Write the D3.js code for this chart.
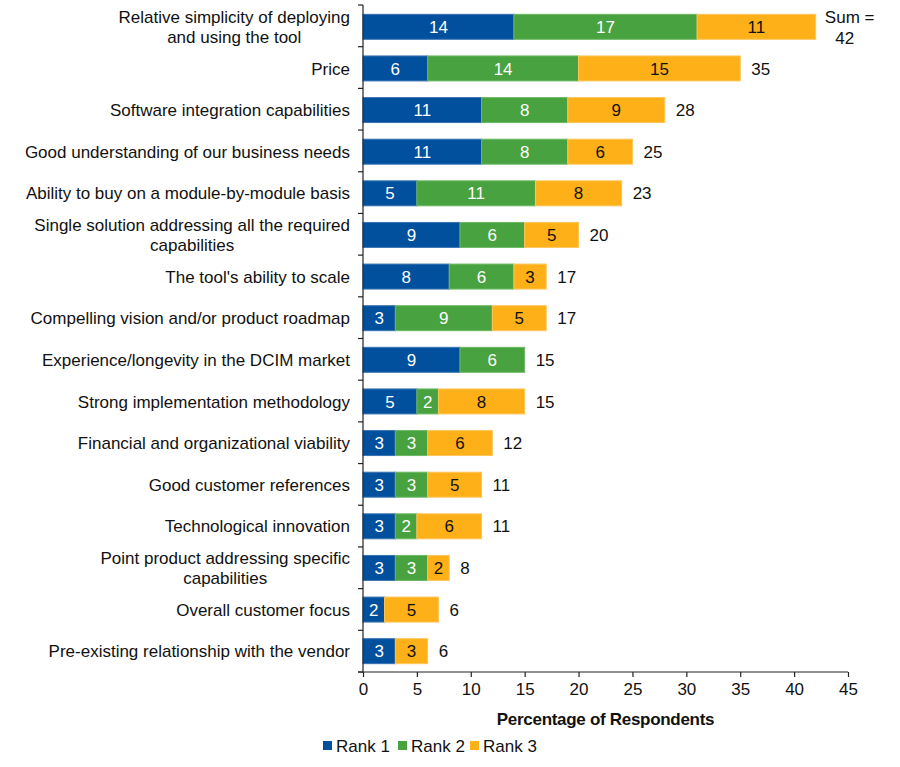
<!DOCTYPE html>
<html>
<head>
<meta charset="utf-8">
<script src="https://cdn.jsdelivr.net/npm/d3@7"></script>
<style>
  body { margin: 0; background: #fff; }
  text { font-family: "Liberation Sans", Arial, sans-serif; }
</style>
</head>
<body>
<script>
let categories = [
    ["Relative simplicity of deploying", "and using the tool"],
    ["Price"],
    ["Software integration capabilities"],
    ["Good understanding of our business needs"],
    ["Ability to buy on a module-by-module basis"],
    ["Single solution addressing all the required", "capabilities"],
    ["The tool's ability to scale"],
    ["Compelling vision and/or product roadmap"],
    ["Experience/longevity in the DCIM market"],
    ["Strong implementation methodology"],
    ["Financial and organizational viability"],
    ["Good customer references"],
    ["Technological innovation"],
    ["Point product addressing specific", "capabilities"],
    ["Overall customer focus"],
    ["Pre-existing relationship with the vendor"]
];
let rank1 = [14, 6, 11, 11, 5, 9, 8, 3, 9, 5, 3, 3, 3, 3, 2, 3];
let rank2 = [17, 14, 8, 8, 11, 6, 6, 9, 6, 2, 3, 3, 2, 3, 0, 0];
let rank3 = [11, 15, 9, 6, 8, 5, 3, 5, 0, 8, 6, 5, 6, 2, 5, 3];
let totals = [42, 35, 28, 25, 23, 20, 17, 17, 15, 15, 12, 11, 11, 8, 6, 6];
let seriesNames = ["Rank 1", "Rank 2", "Rank 3"];
let xTicks = [0, 5, 10, 15, 20, 25, 30, 35, 40, 45];

let size = {width: 900, height: 767};
let margin = {top: 6, right: 52, bottom: 95, left: 363};
let fontSize = 17;
let colors = ["#00509d", "#48a23f", "#fdb017"];
let strokes = ["#3a73b3", "#6cb862", "#fec55a"];
let textColors = ["#fff", "#fff", "#111"];

let svg = d3.select("body").append("svg")
    .attr("width", size.width)
    .attr("height", size.height);

let rows = categories.map((c, i) => ({
    key: i,
    "Rank 1": rank1[i],
    "Rank 2": rank2[i],
    "Rank 3": rank3[i],
    total: totals[i]
}));

let x = d3.scaleLinear()
    .domain([0, 45])
    .range([margin.left, size.width - margin.right]);

let y = d3.scaleBand()
    .domain(rows.map(d => d.key))
    .range([margin.top, size.height - margin.bottom])
    .paddingInner(0.4)
    .paddingOuter(0.2);

let stack = d3.stack().keys(seriesNames)(rows);

let g = svg.append("g");

stack.forEach((layer, si) => {
    let lg = g.append("g");
    lg.selectAll("rect")
        .data(layer.filter(d => d[1] - d[0] > 0))
        .join("rect")
        .attr("x", d => x(d[0]))
        .attr("y", d => y(d.data.key))
        .attr("width", d => x(d[1]) - x(d[0]))
        .attr("height", y.bandwidth())
        .attr("fill", colors[si])
        .attr("stroke", strokes[si])
        .attr("stroke-width", 1);
    lg.selectAll("text")
        .data(layer.filter(d => d[1] - d[0] > 0))
        .join("text")
        .attr("x", d => (x(d[0]) + x(d[1])) / 2)
        .attr("y", d => y(d.data.key) + y.bandwidth() / 2)
        .attr("dy", "0.36em")
        .attr("text-anchor", "middle")
        .attr("font-size", fontSize)
        .attr("fill", textColors[si])
        .text(d => d[1] - d[0]);
});

// totals
let ends = rows.map(d => d["Rank 1"] + d["Rank 2"] + d["Rank 3"]);
g.append("g").selectAll("text")
    .data(rows)
    .join("text")
    .attr("font-size", fontSize)
    .attr("fill", "#111")
    .each(function (d, i) {
        let t = d3.select(this);
        let cy = y(d.key) + y.bandwidth() / 2;
        if (i === 0) {
            t.attr("text-anchor", "middle");
            t.append("tspan").attr("x", x(ends[i]) + 34).attr("y", cy - 4).text("Sum =");
            t.append("tspan").attr("x", x(ends[i]) + 29).attr("y", cy + 17).text(d.total);
        } else {
            t.attr("x", x(ends[i]) + 11).attr("y", cy).attr("dy", "0.36em").text(d.total);
        }
    });

// y axis line with ticks at band boundaries
let axisG = svg.append("g").attr("stroke", "#222").attr("stroke-width", 1.2);
let y0 = margin.top - 1, y1 = size.height - margin.bottom;
axisG.append("line")
    .attr("x1", x(0)).attr("x2", x(0))
    .attr("y1", y0).attr("y2", y1);
axisG.selectAll(".yt")
    .data(d3.range(rows.length + 1))
    .join("line")
    .attr("x1", x(0) - 5).attr("x2", x(0))
    .attr("y1", i => y0 + i * (y1 - y0) / rows.length)
    .attr("y2", i => y0 + i * (y1 - y0) / rows.length);

// x axis
let xAxis = d3.axisBottom(x)
    .tickValues(xTicks)
    .tickSize(5)
    .tickSizeOuter(0);
let xg = svg.append("g")
    .attr("transform", `translate(0,${y1})`)
    .call(xAxis);
xg.select(".domain").attr("stroke", "#222").attr("stroke-width", 1.2)
    .attr("d", `M${x(0) - 5},0H${x(45)}`);
xg.selectAll(".tick line").attr("stroke", "#222").attr("stroke-width", 1.2);
xg.selectAll(".tick text")
    .attr("font-size", fontSize)
    .attr("font-family", "Liberation Sans, Arial, sans-serif")
    .attr("fill", "#111")
    .attr("dy", "0.9em");

svg.append("text")
    .attr("x", (x(0) + x(45)) / 2)
    .attr("y", y1 + 53)
    .attr("text-anchor", "middle")
    .attr("font-size", fontSize)
    .attr("font-weight", "bold")
    .attr("letter-spacing", -0.3)
    .attr("fill", "#111")
    .text("Percentage of Respondents");

// category labels
let labelRight = x(0) - 13;
svg.append("g").selectAll("text")
    .data(categories)
    .join("text")
    .attr("font-size", fontSize)
    .attr("fill", "#111")
    .attr("text-anchor", "middle")
    .each(function (lines, i) {
        let t = d3.select(this);
        let cy = y(i) + y.bandwidth() / 2;
        let n = lines.length;
        let spans = lines.map((l, k) => t.append("tspan")
            .attr("y", cy + (k - (n - 1) / 2) * 20)
            .attr("dy", "0.36em")
            .text(l));
        let maxW = d3.max(spans, s => s.node().getComputedTextLength());
        spans.forEach(s => s.attr("x", labelRight - maxW / 2));
    });

// legend
let legend = svg.append("g").attr("transform", `translate(323,${y1 + 69})`);
let legendX = [0, 75, 147];
seriesNames.forEach((name, i) => {
    let lg = legend.append("g").attr("transform", `translate(${legendX[i]},0)`);
    lg.append("rect").attr("width", 9).attr("height", 9).attr("fill", colors[i]);
    lg.append("text")
        .attr("x", 13).attr("y", 4.5).attr("dy", "0.36em")
        .attr("font-size", fontSize).attr("fill", "#111")
        .text(name);
});
</script>
</body>
</html>
